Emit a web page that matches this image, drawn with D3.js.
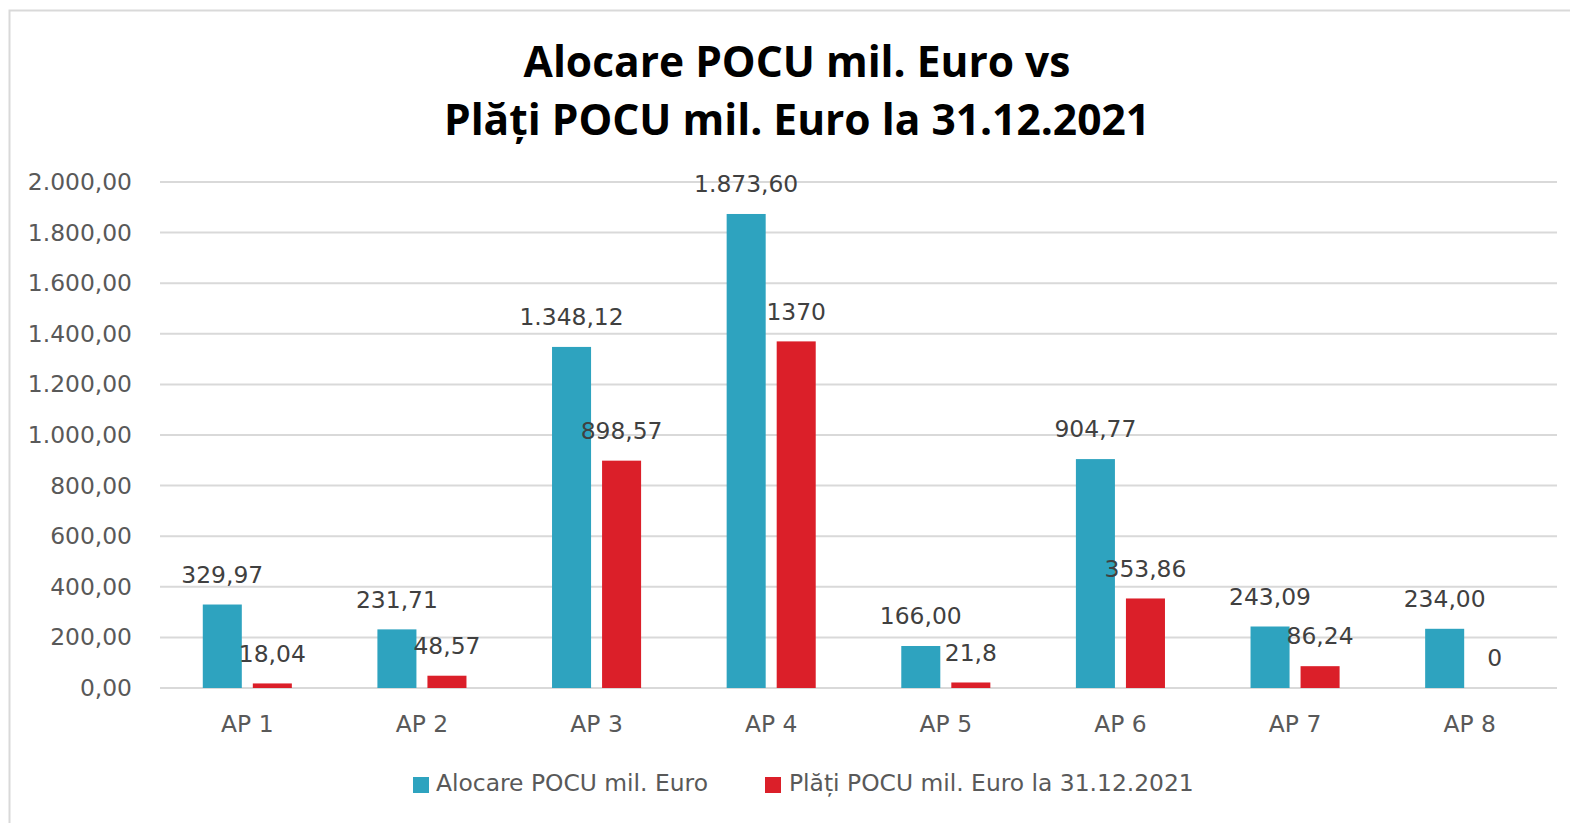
<!DOCTYPE html>
<html><head><meta charset="utf-8">
<script src="https://cdn.jsdelivr.net/npm/d3@7"></script>
<style>body{margin:0;background:#fff}svg{display:block}</style>
</head><body>
<svg id="c" width="1570" height="823"></svg>
<script>
const categories = ["AP 1","AP 2","AP 3","AP 4","AP 5","AP 6","AP 7","AP 8"];
const seriesNames = ["Alocare POCU mil. Euro","Plăți POCU mil. Euro la 31.12.2021"];
const alocare = [329.97,231.71,1348.12,1873.60,166.00,904.77,243.09,234.00];
const plati = [18.04,48.57,898.57,1370,21.8,353.86,86.24,0];
const alocareLabels = ["329,97","231,71","1.348,12","1.873,60","166,00","904,77","243,09","234,00"];
const platiLabels = ["18,04","48,57","898,57","1370","21,8","353,86","86,24","0"];
const yTicks = [0,200,400,600,800,1000,1200,1400,1600,1800,2000];
const yTickLabels = ["0,00","200,00","400,00","600,00","800,00","1.000,00","1.200,00","1.400,00","1.600,00","1.800,00","2.000,00"];
const colors = ["#2ea3bf","#db1f29"];

const svg = d3.select("#c");
const font = "'DejaVu Sans', Verdana, sans-serif";
const fs = 23.4;
svg.append("rect").attr("x",9.5).attr("y",10.5).attr("width",1580).attr("height",830)
  .attr("fill","#fff").attr("stroke","#d9d9d9").attr("stroke-width",2);

const title = svg.append("text").attr("text-anchor","middle")
  .attr("font-family","'Open Sans', sans-serif").attr("font-weight","bold")
  .attr("font-size",42.5).attr("fill","#000");
title.append("tspan").attr("x",797).attr("y",77).text("Alocare POCU mil. Euro vs");
title.append("tspan").attr("x",797).attr("y",135).text("Plăți POCU mil. Euro la 31.12.2021");

const x = d3.scaleBand().domain(categories).range([160,1557]).paddingInner(0.49).paddingOuter(0.245);
const x1 = d3.scaleBand().domain([0,1]).range([0,x.bandwidth()]).paddingInner(0.22).paddingOuter(0);
const y = d3.scaleLinear().domain([0,2000]).range([688,182]);

// grid
svg.append("g").selectAll("line").data(yTicks).join("line")
  .attr("x1",160).attr("x2",1557).attr("y1",d=>y(d)).attr("y2",d=>y(d))
  .attr("stroke","#d9d9d9").attr("stroke-width",2);

// y axis labels
const yAxis = d3.axisLeft(y).tickValues(yTicks).tickSize(0).tickPadding(0)
  .tickFormat((d,i)=>yTickLabels[i]);
const gy = svg.append("g").attr("transform","translate(132,0)").call(yAxis);
gy.select(".domain").remove();
gy.selectAll("text").attr("font-family",font).attr("font-size",fs).attr("fill","#595959");

// x axis labels
const xAxis = d3.axisBottom(x).tickSize(0).tickPadding(0);
const gx = svg.append("g").attr("transform","translate(0,715)").call(xAxis);
gx.select(".domain").remove();
gx.selectAll("text").attr("font-family",font).attr("font-size",fs).attr("fill","#595959");

const series = [alocare, plati];
const labels = [alocareLabels, platiLabels];
series.forEach((vals,s)=>{
  const g = svg.append("g");
  g.selectAll("rect").data(vals).join("rect")
    .attr("x",(d,i)=>x(categories[i])+x1(s))
    .attr("y",d=>y(d))
    .attr("width",x1.bandwidth())
    .attr("height",d=>y(0)-y(d))
    .attr("fill",colors[s]);
  g.selectAll("text").data(vals).join("text")
    .attr("x",(d,i)=>x(categories[i])+x1(s)+x1.bandwidth()/2)
    .attr("y",d=>y(d)-30)
    .attr("dy","0.35em")
    .attr("text-anchor","middle")
    .attr("font-family",font).attr("font-size",fs).attr("fill","#404040")
    .text((d,i)=>labels[s][i]);
});

// legend
const leg = [{x:413,tx:436},{x:765,tx:789}];
seriesNames.forEach((n,i)=>{
  svg.append("rect").attr("x",leg[i].x).attr("y",777).attr("width",16).attr("height",16).attr("fill",colors[i]);
  svg.append("text").attr("x",leg[i].tx).attr("y",783).attr("dy","0.35em")
    .attr("font-family",font).attr("font-size",fs).attr("fill","#595959").text(n);
});
</script>
</body></html>
